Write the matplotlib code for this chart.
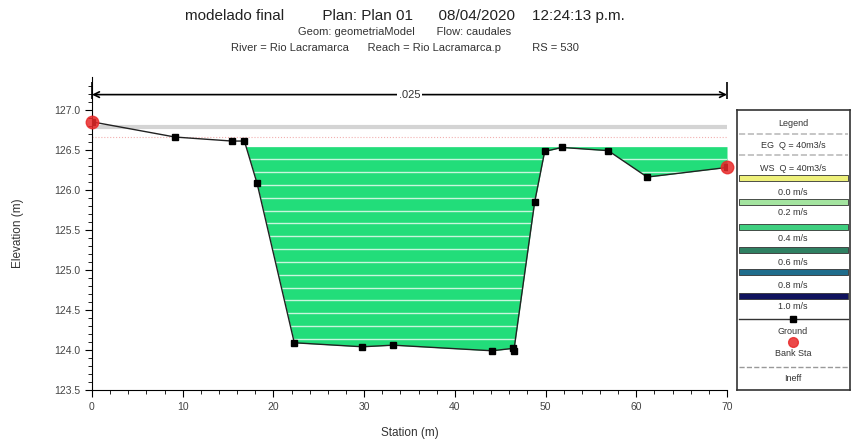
import matplotlib.pyplot as plt
import numpy as np
from matplotlib.path import Path

plt.rcParams['font.family'] = ['Liberation Sans', 'DejaVu Sans']

# cross section ground points (station m, elevation m)
station = [0.0, 9.15, 15.4, 16.8, 18.2, 22.3, 29.8, 33.2, 44.1, 46.4, 46.5,
           48.8, 49.9, 51.8, 56.9, 61.2, 70.0]
elevation = [126.85, 126.66, 126.61, 126.61, 126.08, 124.09, 124.04, 124.06,
             123.99, 124.02, 123.99, 125.85, 126.48, 126.53, 126.49, 126.16, 126.28]
bank_sta = [0.0, 70.0]
bank_elev = [126.85, 126.28]
ws_elev = 126.54
eg_elev = 126.78
crit_elev = 126.66
slice_step = 0.16
mann_n = '.025'

vel_labels = ['0.0 m/s', '0.2 m/s', '0.4 m/s', '0.6 m/s', '0.8 m/s', '1.0 m/s']
vel_colors = ['#eef07a', '#a4e4a0', '#3fcf80', '#2f8062', '#1f6d8c', '#10135e']

W, H = 853, 444
fig = plt.figure(figsize=(W / 100, H / 100), dpi=100)
ax = fig.add_axes([92 / W, 1 - 390 / H, 635 / W, 313 / H])

sta = np.array(station)
elev = np.array(elevation)

# water in the section
fill = ax.fill_between(sta, elev, ws_elev, where=elev <= ws_elev, interpolate=True,
                       color='#22dd7a', lw=0, zorder=2)
clip = Path.make_compound_path(*fill.get_paths())
levels = np.arange(ws_elev - slice_step, elev.min(), -slice_step)
stripes = ax.hlines(levels, 0, 70, colors='white', lw=1.0, alpha=0.75, zorder=3)
stripes.set_clip_path(clip, ax.transData)

ax.axhline(eg_elev, color='#d4d4d4', lw=3, zorder=1)
ax.axhline(crit_elev, color='#f2b0b0', lw=0.8, ls=':', zorder=1)

ax.plot(sta, elev, color='#222222', lw=1.0, marker='s', ms=4, mfc='black',
        mec='black', zorder=4)
ax.plot(bank_sta, bank_elev, 'o', color='#e82a2a', ms=9, alpha=0.85,
        zorder=5, clip_on=False)

# manning's n bar
ax.annotate('', xy=(0, 127.19), xytext=(70, 127.19),
            arrowprops=dict(arrowstyle='<->', color='black', lw=1.2,
                            shrinkA=0, shrinkB=0), annotation_clip=False)
ax.vlines([0, 70], 127.13, 127.35, color='black', lw=1.2, clip_on=False)
ax.text(35, 127.19, mann_n, ha='center', va='center', fontsize=8, color='#333333',
        bbox=dict(facecolor='white', edgecolor='none', pad=1))

ax.set_xlim(0, 70)
ax.set_ylim(123.5, 127.41)
ax.set_xticks(np.arange(0, 71, 10))
ax.set_xticks(np.arange(0, 71, 2), minor=True)
ax.set_yticks(np.arange(123.5, 127.01, 0.5))
ax.set_yticks(np.arange(123.5, 127.31, 0.1), minor=True)
ax.yaxis.set_major_formatter(plt.FormatStrFormatter('%.1f'))
for s in ['top', 'right']:
    ax.spines[s].set_visible(False)
ax.tick_params(labelsize=7.5, labelcolor='#444444', length=5)
ax.tick_params(which='minor', length=3)
ax.set_xlabel('Station (m)', fontsize=8.5, color='#333333', labelpad=11)
ax.set_ylabel('Elevation (m)', fontsize=8.5, color='#333333', labelpad=22)

fig.text(405 / W, 1 - 16 / H,
         'modelado final         Plan: Plan 01      08/04/2020    12:24:13 p.m.',
         ha='center', va='center', fontsize=11, color='#222222')
fig.text(405 / W, 1 - 32 / H, 'Geom: geometriaModel       Flow: caudales',
         ha='center', va='center', fontsize=8, color='#333333')
fig.text(405 / W, 1 - 48 / H,
         'River = Rio Lacramarca      Reach = Rio Lacramarca.p          RS = 530',
         ha='center', va='center', fontsize=8, color='#333333')

# legend panel, drawn in pixel units
lg = fig.add_axes([737 / W, 1 - 390 / H, 113 / W, 280 / H])
lg.set_xlim(0, 113)
lg.set_ylim(390, 110)
lg.set_xticks([])
lg.set_yticks([])
for s in lg.spines.values():
    s.set_color('#333333')
    s.set_linewidth(1.2)

def label(y, txt):
    lg.text(56, y, txt, ha='center', va='center', fontsize=6.5, color='#333333')

label(123, 'Legend')
lg.plot([2, 111], [134, 134], color='#bbbbbb', lw=1.2, ls='--')
label(145, 'EG  Q = 40m3/s')
lg.plot([2, 111], [155, 155], color='#bbbbbb', lw=1.2, ls='--')
label(168, 'WS  Q = 40m3/s')
band_y = [178, 202, 227, 250, 272, 296]
text_y = [192, 212, 238, 262, 285, 306]
for by, ty, c, t in zip(band_y, text_y, vel_colors, vel_labels):
    lg.fill_between([2, 111], by - 3, by + 3, color=c, ec='#333333', lw=0.6)
    label(ty, t)
lg.plot([2, 111], [319, 319], color='#333333', lw=1.0)
lg.plot([56], [319], 's', color='black', ms=4)
label(331, 'Ground')
lg.plot([56], [342], 'o', color='#e82a2a', ms=7, alpha=0.85)
label(353, 'Bank Sta')
lg.plot([2, 111], [367, 367], color='#999999', lw=1.0, ls='--')
label(378, 'Ineff')

fig.savefig('out.png', dpi=100)
